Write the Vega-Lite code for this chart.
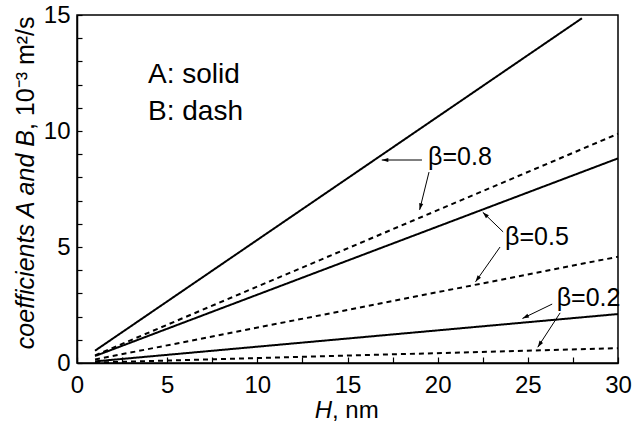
{
  "$schema": "https://vega.github.io/schema/vega-lite/v6.json",
  "width": 541,
  "height": 348,
  "autosize": {"type": "none"},
  "padding": {"left": 77, "top": 15, "right": 16, "bottom": 65},
  "background": "white",
  "config": {
    "font": "Liberation Sans",
    "view": {"stroke": "black", "strokeWidth": 1.5}
  },
  "datasets": {
    "lines": [
      {"beta": "0.8", "coef": "A", "H": 1, "v": 0.53},
      {"beta": "0.8", "coef": "A", "H": 28, "v": 14.86},
      {"beta": "0.8", "coef": "B", "H": 1, "v": 0.33},
      {"beta": "0.8", "coef": "B", "H": 30, "v": 9.88},
      {"beta": "0.5", "coef": "A", "H": 1, "v": 0.30},
      {"beta": "0.5", "coef": "A", "H": 30, "v": 8.82},
      {"beta": "0.5", "coef": "B", "H": 1, "v": 0.15},
      {"beta": "0.5", "coef": "B", "H": 30, "v": 4.58},
      {"beta": "0.2", "coef": "A", "H": 1, "v": 0.07},
      {"beta": "0.2", "coef": "A", "H": 30, "v": 2.11},
      {"beta": "0.2", "coef": "B", "H": 1, "v": 0.02},
      {"beta": "0.2", "coef": "B", "H": 30, "v": 0.64}
    ],
    "arrows": [
      {"H": 19.13, "v": 8.75, "H2": 16.9, "v2": 8.75},
      {"H": 19.52, "v": 8.23, "H2": 19.0, "v2": 6.6},
      {"H": 23.63, "v": 5.65, "H2": 22.5, "v2": 6.5},
      {"H": 23.46, "v": 5.0, "H2": 22.1, "v2": 3.5},
      {"H": 26.35, "v": 2.54, "H2": 24.7, "v2": 1.92},
      {"H": 26.79, "v": 2.16, "H2": 25.55, "v2": 0.68}
    ],
    "xTicks": [{"tick": 2.5}, {"tick": 5}, {"tick": 7.5}, {"tick": 10}, {"tick": 12.5}, {"tick": 15}, {"tick": 17.5}, {"tick": 20}, {"tick": 22.5}, {"tick": 25}, {"tick": 27.5}],
    "yTicks": [{"tick": 1}, {"tick": 2}, {"tick": 3}, {"tick": 4}, {"tick": 5}, {"tick": 6}, {"tick": 7}, {"tick": 8}, {"tick": 9}, {"tick": 10}, {"tick": 11}, {"tick": 12}, {"tick": 13}, {"tick": 14}],
    "betaLabels": [
      {"H": 19.47, "v": 8.88, "label": "β=0.8"},
      {"H": 23.74, "v": 5.43, "label": "β=0.5"},
      {"H": 26.6, "v": 2.8, "label": "β=0.2"}
    ],
    "keyLabels": [
      {"H": 3.94, "v": 12.41, "label": "A: solid"},
      {"H": 3.94, "v": 10.82, "label": "B: dash"}
    ],
    "yTitleItalic": [{"H": -2.83, "v": 10.04, "label": "coefficients A and B"}],
    "yTitleUpright": [{"H": -2.83, "v": 10.04, "label": ", 10⁻³ m²/s"}],
    "xTitleItalic": [{"H": 14.14, "v": -2.05, "label": "H"}],
    "xTitleUpright": [{"H": 14.14, "v": -2.05, "label": ", nm"}]
  },
  "encoding": {
    "x": {
      "field": "H", "type": "quantitative",
      "scale": {"domain": [0, 30], "nice": false, "zero": false},
      "axis": {
        "title": null, "values": [0, 2.5, 5, 7.5, 10, 12.5, 15, 17.5, 20, 22.5, 25, 27.5, 30],
        "labelExpr": "datum.value % 5 === 0 ? datum.label : ''",
        "ticks": true, "tickSize": -6, "tickOpacity": 1, "labelPadding": 16, "labelFlush": false, "labelOverlap": false,
        "labelFont": "Liberation Sans", "labelFontSize": 24, "labelColor": "black", "zindex": 1,
        "domainColor": "black", "domainWidth": 1.5, "tickColor": "black", "tickWidth": 1.2, "grid": false
      }
    },
    "y": {
      "field": "v", "type": "quantitative",
      "scale": {"domain": [0, 15], "nice": false},
      "axis": {
        "title": null, "values": [0, 1, 2, 3, 4, 5, 6, 7, 8, 9, 10, 11, 12, 13, 14, 15],
        "labelExpr": "datum.value % 5 === 0 ? datum.label : ''",
        "ticks": true, "tickSize": -5, "tickOpacity": 1, "labelPadding": 12, "labelFlush": false, "labelOverlap": false,
        "labelFont": "Liberation Sans", "labelFontSize": 24, "labelColor": "black", "zindex": 1,
        "domainColor": "black", "domainWidth": 1.5, "tickColor": "black", "tickWidth": 1.2, "grid": false
      }
    }
  },
  "layer": [
    {
      "data": {"name": "lines"},
      "mark": {"type": "line", "color": "black", "strokeWidth": 2},
      "encoding": {
        "detail": {"field": "beta"},
        "strokeDash": {
          "field": "coef", "type": "nominal",
          "scale": {"domain": ["A", "B"], "range": [[1, 0], [5, 4]]},
          "legend": null
        }
      }
    },
    {
      "data": {"name": "xTicks"},
      "mark": {"type": "rule", "color": "black", "strokeWidth": 1.5},
      "encoding": {
        "x": {"field": "tick", "type": "quantitative"},
        "y": {"datum": 0, "type": "quantitative"},
        "y2": {"datum": 0.3}
      }
    },
    {
      "data": {"name": "yTicks"},
      "mark": {"type": "rule", "color": "black", "strokeWidth": 1.5},
      "encoding": {
        "y": {"field": "tick", "type": "quantitative"},
        "x": {"datum": 0, "type": "quantitative"},
        "x2": {"datum": 0.32}
      }
    },
    {
      "data": {"name": "arrows"},
      "mark": {"type": "rule", "color": "black", "strokeWidth": 1},
      "encoding": {
        "x2": {"field": "H2"},
        "y2": {"field": "v2"}
      }
    },
    {
      "data": {"name": "arrows"},
      "transform": [
        {"calculate": "atan2((datum.H2 - datum.H) * 18.03, (datum.v2 - datum.v) * 23.2) * 180 / PI", "as": "ang"}
      ],
      "mark": {"type": "point", "shape": "M0,0 L0.32,1 L-0.32,1 Z", "filled": true, "color": "black", "size": 170, "opacity": 1},
      "encoding": {
        "x": {"field": "H2", "type": "quantitative"},
        "y": {"field": "v2", "type": "quantitative"},
        "angle": {"field": "ang", "type": "quantitative", "scale": null}
      }
    },
    {
      "data": {"name": "betaLabels"},
      "mark": {"type": "text", "align": "left", "baseline": "middle", "fontSize": 25, "color": "black"},
      "encoding": {"text": {"field": "label"}}
    },
    {
      "data": {"name": "keyLabels"},
      "mark": {"type": "text", "align": "left", "baseline": "middle", "fontSize": 28, "color": "black"},
      "encoding": {"text": {"field": "label"}}
    },
    {
      "data": {"name": "yTitleItalic"},
      "mark": {"type": "text", "align": "right", "baseline": "middle", "angle": 270, "fontSize": 25, "fontStyle": "italic", "color": "black"},
      "encoding": {"text": {"field": "label"}}
    },
    {
      "data": {"name": "yTitleUpright"},
      "mark": {"type": "text", "align": "left", "baseline": "middle", "angle": 270, "fontSize": 25, "color": "black"},
      "encoding": {"text": {"field": "label"}}
    },
    {
      "data": {"name": "xTitleItalic"},
      "mark": {"type": "text", "align": "right", "baseline": "middle", "fontSize": 24, "fontStyle": "italic", "color": "black"},
      "encoding": {"text": {"field": "label"}}
    },
    {
      "data": {"name": "xTitleUpright"},
      "mark": {"type": "text", "align": "left", "baseline": "middle", "fontSize": 24, "color": "black"},
      "encoding": {"text": {"field": "label"}}
    }
  ]
}
